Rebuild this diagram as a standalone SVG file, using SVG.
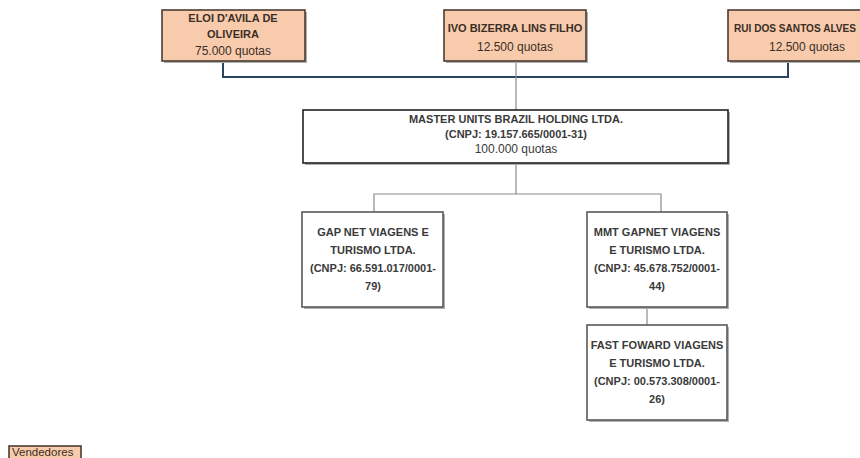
<svg xmlns="http://www.w3.org/2000/svg" width="860" height="458" viewBox="0 0 860 458">
<style>
.owner{fill:#f8cbad;stroke:#4a3d34;stroke-width:1.6}
.box{fill:#ffffff;stroke:#595959;stroke-width:1.6}
.master{fill:#ffffff;stroke:#222222;stroke-width:1.6}
.sh{fill:#b0b0b0}
.b{font-family:"Liberation Sans",Arial,sans-serif;font-size:11px;font-weight:bold;fill:#3a3a3a;text-anchor:middle}
.r{font-family:"Liberation Sans",Arial,sans-serif;font-size:12px;fill:#3a3a3a;text-anchor:middle}
.ob{fill:#3b2e26}
.main{stroke:#2b4561;stroke-width:2;fill:none}
.thin{stroke:#8a8a8a;stroke-width:1.2;fill:none}
</style>
<rect width="860" height="458" fill="#ffffff"/>
<g id="connectors">
<polyline class="main" points="223,61 223,77 788,77 788,61"/>
<line class="thin" x1="516" y1="61" x2="516" y2="110"/>
<line class="thin" x1="516" y1="163" x2="516" y2="194"/>
<polyline class="thin" points="374,212 374,194 661,194 661,212"/>
<line class="thin" x1="647" y1="307" x2="647" y2="325"/>
</g>
<g id="eloi">
<rect class="sh" x="164" y="12" width="143" height="51"/>
<rect class="owner" x="162" y="10" width="143" height="51"/>
<text class="b ob" x="233" y="22">ELOI D'AVILA DE</text>
<text class="b ob" x="233" y="38">OLIVEIRA</text>
<text class="r ob" x="233" y="55">75.000 quotas</text>
</g>
<g id="ivo">
<rect class="sh" x="446" y="12" width="142" height="51"/>
<rect class="owner" x="444" y="10" width="142" height="51"/>
<text class="b ob" x="515" y="32">IVO BIZERRA LINS FILHO</text>
<text class="r ob" x="515" y="51">12.500 quotas</text>
</g>
<g id="rui">
<rect class="sh" x="730" y="12" width="158" height="51"/>
<rect class="owner" x="728" y="10" width="158" height="51"/>
<text class="b ob" x="795" y="32" style="font-size:10.1px">RUI DOS SANTOS ALVES</text>
<text class="r ob" x="807" y="51">12.500 quotas</text>
</g>
<g id="master">
<rect class="sh" x="305" y="112" width="425" height="53"/>
<rect class="master" x="303" y="110" width="425" height="53"/>
<text class="b" x="516" y="123">MASTER UNITS BRAZIL HOLDING LTDA.</text>
<text class="b" x="516" y="138">(CNPJ: 19.157.665/0001-31)</text>
<text class="r" x="516" y="153">100.000 quotas</text>
</g>
<g id="gapnet">
<rect class="sh" x="304" y="214" width="141" height="95"/>
<rect class="box" x="302" y="212" width="141" height="95"/>
<text class="b" x="373" y="236">GAP NET VIAGENS E</text>
<text class="b" x="373" y="254">TURISMO LTDA.</text>
<text class="b" x="373" y="272">(CNPJ: 66.591.017/0001-</text>
<text class="b" x="373" y="290">79)</text>
</g>
<g id="mmt">
<rect class="sh" x="589" y="214" width="140" height="95"/>
<rect class="box" x="587" y="212" width="140" height="95"/>
<text class="b" x="657" y="236">MMT GAPNET VIAGENS</text>
<text class="b" x="657" y="254">E TURISMO LTDA.</text>
<text class="b" x="657" y="272">(CNPJ: 45.678.752/0001-</text>
<text class="b" x="657" y="290">44)</text>
</g>
<g id="fast">
<rect class="sh" x="589" y="327" width="140" height="95"/>
<rect class="box" x="587" y="325" width="140" height="95"/>
<text class="b" x="657" y="349">FAST FOWARD VIAGENS</text>
<text class="b" x="657" y="367">E TURISMO LTDA.</text>
<text class="b" x="657" y="385">(CNPJ: 00.573.308/0001-</text>
<text class="b" x="657" y="403">26)</text>
</g>
<g id="vendedores">
<rect class="owner" x="9" y="446" width="72" height="16"/>
<text x="12" y="456" style="font-family:'Liberation Sans',Arial,sans-serif;font-size:11.5px;fill:#3b2e26">Vendedores</text>
</g>
</svg>
